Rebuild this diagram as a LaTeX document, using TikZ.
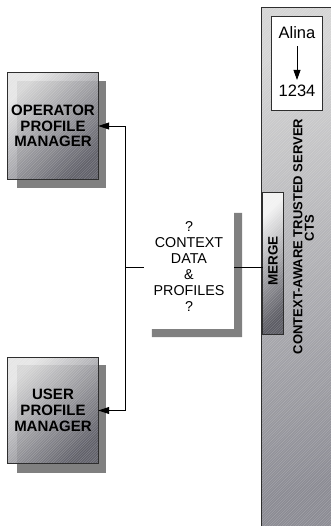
\documentclass[tikz,border=0pt]{standalone}
\usepackage{fontspec}
\setmainfont{Liberation Sans}
\usetikzlibrary{arrows.meta,backgrounds}

\definecolor{dropgray}{HTML}{808080}
\definecolor{rimgray}{HTML}{2E2E2E}
\definecolor{paneltop}{HTML}{E2E2E2}
\definecolor{panelbot}{HTML}{5C5C66}
\definecolor{servtop}{HTML}{D4D4D4}
\definecolor{servbot}{HTML}{8A8A92}
\definecolor{mergetop}{HTML}{F2F2F2}
\definecolor{mergebot}{HTML}{5A5A62}

\tikzset{
  hatchline/.style={draw=white, line width=0.45pt, draw opacity=0.22},
  mgrbox/.style={rectangle, inner sep=0pt, minimum width=90pt, minimum height=106pt,
                 align=center, font=\fontsize{15}{15.7}\selectfont\bfseries},
  conn/.style={line width=0.8pt, draw=black},
  tip/.style={-{Triangle[length=11pt,width=7pt]}},
  rim/.style={draw=rimgray, line width=0.8pt},
}

% fine diagonal hatching inside the rectangle (x1,y1)-(x2,y2)
\newcommand\hatchlines[4]{%
  \begin{scope}
    \clip (#1,#2) rectangle (#3,#4);
    \pgfmathsetmacro\hstart{#1+#2}%
    \pgfmathsetmacro\hnext{#1+#2+2.6}%
    \pgfmathsetmacro\hstop{#3+#4}%
    \foreach \c in {\hstart,\hnext,...,\hstop}
      \draw[hatchline] (\c-#4,#4) -- (\c-#2,#2);
  \end{scope}}

% gradient panel fitted to a named node
\newcommand\shadedpanel[4]{% node, top colour, bottom colour, opacity
  \shade[top color=#2, bottom color=#3, shading angle=45, fill opacity=#4]
    (#1.north west) rectangle (#1.south east);
}

\begin{document}
\begin{tikzpicture}[x=1pt, y=-1pt]
\useasboundingbox (0,0) rectangle (330,526);
\clip (0,0) rectangle (330,526);

% ---- server column -------------------------------------------------
\node[rectangle, inner sep=0pt, minimum width=74pt, minimum height=522pt] (srv) at (299,269) {};
\node[rectangle, inner sep=0pt, minimum width=50pt, minimum height=93pt] (idbox) at (297,63.5) {};
\node[inner sep=0pt, font=\fontsize{16.5}{18}\selectfont] (alina) at (297,33) {Alina};
\node[inner sep=0pt, font=\fontsize{16.5}{18}\selectfont] (num) at (297,91) {1234};
\draw[conn, -{Triangle[length=10pt,width=7pt]}, shorten <=7pt, shorten >=5pt] (alina) -- (num);

\node[rotate=90, inner sep=0pt, font=\fontsize{13}{14}\selectfont\bfseries] (srvname)
  at (298,236.5) {CONTEXT-AWARE TRUSTED SERVER};
\node[rotate=90, inner sep=0pt, font=\fontsize{13}{14}\selectfont\bfseries] (cts)
  at (309.5,228) {CTS};

\node[rectangle, inner sep=0pt, minimum width=20pt, minimum height=141pt] (merge) at (273,263.5) {};
\node[rotate=90, inner sep=0pt, font=\fontsize{13.5}{15}\selectfont\bfseries] (mergetxt)
  at (273,261) {MERGE};

% ---- profile managers ----------------------------------------------
\node[mgrbox] (op) at (53,126) {OPERATOR\\PROFILE\\MANAGER};
\node[mgrbox] (usr) at (53,410.5) {USER\\PROFILE\\MANAGER};

% ---- exchanged information -----------------------------------------
\node[rectangle, inner sep=0pt, minimum width=90pt, minimum height=124pt, align=center,
      font=\fontsize{14.3}{16}\selectfont] (ctx) at (189,267)
  {?\\CONTEXT\\DATA\\\&\\PROFILES\\?};

% ---- fills behind the texts ----------------------------------------
\begin{scope}[on background layer]
  \shade[top color=servtop, bottom color=servbot, shading angle=15]
    (srv.north west) rectangle (srv.south east);
  \hatchlines{262}{8}{336}{530}
  \draw[rim] (srv.south west) -- (srv.north west) -- (srv.north east);

  \fill[white] (idbox.north west) rectangle (idbox.south east);
  \draw[rim] (idbox.north west) rectangle (idbox.south east);

  \shadedpanel{merge}{mergetop}{mergebot}{1}
  \hatchlines{263}{193}{283}{334}
  \draw[rim] (merge.north west) rectangle (merge.south east);

  \fill[dropgray] ([shift={(9,8)}]op.north west) rectangle ([shift={(8,9)}]op.south east);
  \shadedpanel{op}{paneltop}{panelbot}{0.88}
  \hatchlines{8}{73}{98}{179}
  \draw[rim] (op.north west) rectangle (op.south east);

  \fill[dropgray] ([shift={(9,8)}]usr.north west) rectangle ([shift={(8,9)}]usr.south east);
  \shadedpanel{usr}{paneltop}{panelbot}{0.88}
  \hatchlines{8}{357.5}{98}{463.5}
  \draw[rim] (usr.north west) rectangle (usr.south east);

  \fill[dropgray] ([shift={(0,8)}]ctx.north east) -- ([shift={(8,8)}]ctx.north east)
    -- ([shift={(8,8)}]ctx.south east) -- ([shift={(8,8)}]ctx.south west)
    -- ([shift={(8,0)}]ctx.south west) -- (ctx.south east) -- cycle;
\end{scope}

% ---- connectors ----------------------------------------------------
\coordinate (split) at (125,267);
\draw[conn] (ctx.west) -- (split);
\draw[conn, tip] (split) |- (op.east);
\draw[conn, tip] (split) |- (usr.east);
\draw[conn] (ctx.east) -- (ctx.east -| merge.west);
\end{tikzpicture}
\end{document}
